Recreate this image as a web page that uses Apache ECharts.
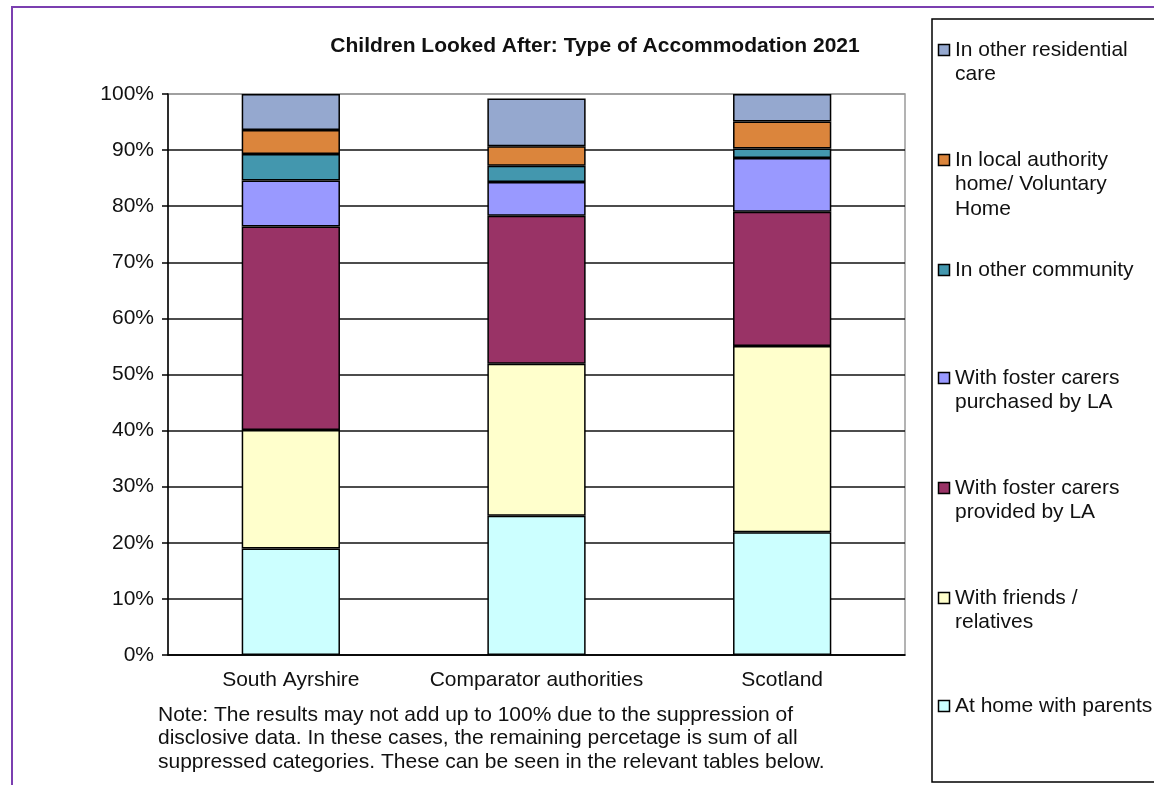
<!DOCTYPE html>
<html>
<head>
<meta charset="utf-8">
<title>Children Looked After: Type of Accommodation 2021</title>
<script src="https://cdn.jsdelivr.net/npm/echarts@6/dist/echarts.min.js"></script>
<style>
  html, body { margin: 0; padding: 0; background: #fff; }
  #chart { width: 1154px; height: 785px; }
</style>
</head>
<body>
<div id="chart"></div>
<script>
  // values, in %
  const categories = ['South Ayrshire', 'Comparator authorities', 'Scotland']
  const atHome = [19.0, 24.8, 21.9]
  const friends = [21.1, 27.1, 33.2]
  const fosterProvided = [36.3, 26.4, 23.9]
  const fosterPurchased = [8.2, 6.0, 9.6]
  const otherCommunity = [4.7, 2.9, 1.7]
  const laHome = [4.3, 3.5, 4.8]
  const otherResidential = [6.4, 8.5, 4.9]
  const yTicks = [0, 10, 20, 30, 40, 50, 60, 70, 80, 90, 100]

  // bottom to top
  const seriesList = [
    { name: 'At home with parents', data: atHome, color: '#CCFFFF' },
    { name: 'With friends /\nrelatives', data: friends, color: '#FFFFCC' },
    { name: 'With foster carers\nprovided by LA', data: fosterProvided, color: '#993366' },
    { name: 'With foster carers\npurchased by LA', data: fosterPurchased, color: '#9999FF' },
    { name: 'In other community', data: otherCommunity, color: '#4397AE' },
    { name: 'In local authority\nhome/ Voluntary\nHome', data: laHome, color: '#DB853C' },
    { name: 'In other residential\ncare', data: otherResidential, color: '#95A8CF' }
  ]

  const font = '"Liberation Sans", Arial, sans-serif'
  const myChart = echarts.init(document.getElementById('chart'), null, { renderer: 'canvas' })

  // hand-drawn legend box (markers sit on the first text line like the original)
  const legendTop = [50, 160, 270, 378, 488, 598, 706]
  const legendItems = []
  seriesList.slice().reverse().forEach((s, i) => {
    legendItems.push({
      type: 'rect',
      shape: { x: 938.5, y: legendTop[i] - 5.5, width: 11, height: 11 },
      style: { fill: s.color, stroke: '#000', lineWidth: 1.5 }
    })
    legendItems.push({
      type: 'text',
      x: 955,
      y: legendTop[i] - 12.5,
      style: {
        text: s.name,
        font: '21px ' + font,
        fill: '#111',
        lineHeight: 24.5,
        verticalAlign: 'top'
      }
    })
  })

  let option = {
    animation: false,
    backgroundColor: '#fff',
    title: {
      text: 'Children Looked After: Type of Accommodation 2021',
      left: 590,
      top: 31,
      textAlign: 'center',
      textStyle: { fontFamily: font, fontSize: 21, fontWeight: 'bold', color: '#111' }
    },
    grid: {
      left: 168,
      right: 249,
      top: 94,
      bottom: 130,
      show: true,
      borderColor: '#9a9a9a',
      borderWidth: 1.5,
      backgroundColor: '#fff'
    },
    xAxis: {
      type: 'category',
      data: categories,
      axisLine: { lineStyle: { color: '#000', width: 1.5 } },
      axisTick: { length: 6, lineStyle: { color: '#000', width: 1.5 } },
      axisLabel: { interval: 0, margin: 15, fontFamily: font, fontSize: 21, color: '#111' }
    },
    yAxis: {
      type: 'value',
      min: yTicks[0],
      max: yTicks[yTicks.length - 1],
      interval: 10,
      axisLine: { show: true, lineStyle: { color: '#000', width: 1.5 } },
      axisTick: { show: true, length: 6, lineStyle: { color: '#000', width: 1.5 } },
      axisLabel: { margin: 14, formatter: '{value}%', fontFamily: font, fontSize: 21, color: '#111' },
      splitLine: {
        lineStyle: {
          color: ['#000', '#111', '#111', '#111', '#111', '#111', '#111', '#111', '#111', '#111', '#9a9a9a'],
          width: 1.5
        }
      }
    },
    series: seriesList.map(s => ({
      name: s.name,
      type: 'bar',
      stack: 'total',
      barWidth: '40%',
      data: s.data,
      itemStyle: { color: s.color, borderColor: '#000', borderWidth: 1.5 }
    })),
    graphic: [
      {
        type: 'rect',
        shape: { x: 12, y: 7, width: 1400, height: 1000 },
        style: { fill: 'none', stroke: '#7B3FB0', lineWidth: 2 },
        z: 100
      },
      {
        type: 'rect',
        shape: { x: 932, y: 19, width: 400, height: 763 },
        style: { fill: '#fff', stroke: '#000', lineWidth: 1.5 }
      },
      ...legendItems,
      {
        type: 'text',
        x: 158,
        y: 703,
        style: {
          text: 'Note: The results may not add up to 100% due to the suppression of\n' +
            'disclosive data. In these cases, the remaining percetage is sum of all\n' +
            'suppressed categories. These can be seen in the relevant tables below.',
          font: '21px ' + font,
          fill: '#111',
          lineHeight: 23.5,
          verticalAlign: 'top'
        }
      }
    ]
  }
  myChart.setOption(option)
</script>
</body>
</html>
